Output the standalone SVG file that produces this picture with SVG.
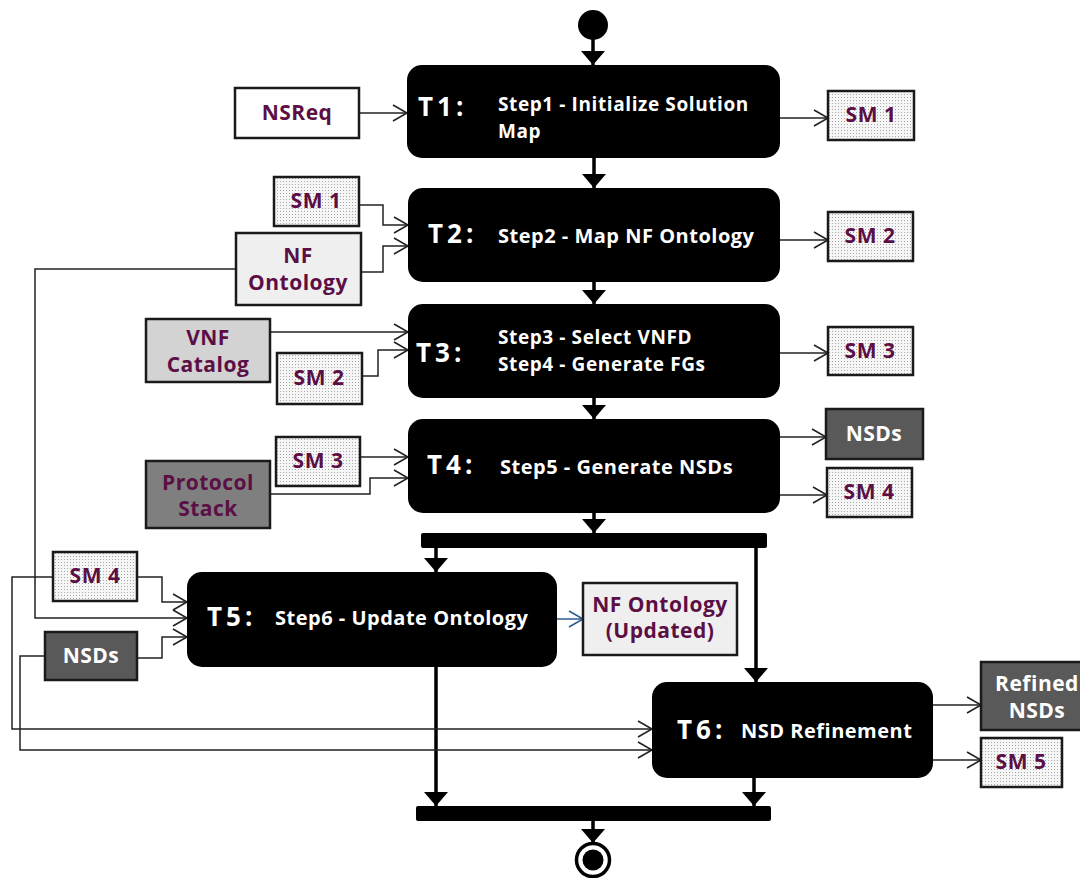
<svg xmlns="http://www.w3.org/2000/svg" width="1080" height="878" viewBox="0 0 1080 878">
  <defs>
    <pattern id="dots" width="3" height="3" patternUnits="userSpaceOnUse">
      <rect width="3" height="3" fill="#f6f6f6"/>
      <rect x="1" y="1" width="1" height="1" fill="#a8a8a8"/>
    </pattern>
    <!-- solid flow arrowhead -->
    <marker id="flow" viewBox="0 0 10 10" preserveAspectRatio="none" markerUnits="userSpaceOnUse" markerWidth="14" markerHeight="24" refX="10" refY="5" orient="auto">
      <path d="M0,0 L10,5 L0,10 z" fill="#000"/>
    </marker>
    <!-- open arrowhead for data connectors -->
    <marker id="open" markerUnits="userSpaceOnUse" markerWidth="16" markerHeight="20" refX="15" refY="9" orient="auto" overflow="visible">
      <path d="M1,1 L15,9 L1,17" fill="none" stroke="#222" stroke-width="1.6"/>
    </marker>
    <marker id="openBlue" markerUnits="userSpaceOnUse" markerWidth="16" markerHeight="20" refX="15" refY="9" orient="auto" overflow="visible">
      <path d="M1,1 L15,9 L1,17" fill="none" stroke="#2e5d8c" stroke-width="1.6"/>
    </marker>
  </defs>
  <style>
    .task { fill: #000; }
    .tl { font-family: "Open Sans", Lato, sans-serif; font-weight: 700; font-size: 26px; letter-spacing: 4px; fill: #fff; }
    .st { font-family: "Open Sans", Lato, sans-serif; font-weight: 700; font-size: 20px; letter-spacing: 0.5px; fill: #fff; }
    .st2 { font-family: "Open Sans", Lato, sans-serif; font-weight: 700; font-size: 19px; letter-spacing: 0.6px; fill: #fff; }
    .box { stroke: #1a1a1a; stroke-width: 2.5; }
    .plain { fill: #fff; }
    .sm { fill: url(#dots); }
    .light { fill: #efefef; }
    .mid { fill: #d3d3d3; }
    .grey { fill: #7f7f7f; }
    .dark { fill: #595959; }
    .lb { font-family: "Open Sans", Lato, sans-serif; font-weight: 700; font-size: 21px; letter-spacing: 0.5px; fill: #5b0f45; text-anchor: middle; }
    .lbw { font-family: "Open Sans", Lato, sans-serif; font-weight: 700; font-size: 21px; letter-spacing: 0.5px; fill: #fff; text-anchor: middle; }
    .thin { fill: none; stroke: #222; stroke-width: 1.5; marker-end: url(#open); }
    .thick { fill: none; stroke: #000; stroke-width: 3.5; marker-end: url(#flow); }
    .bar { fill: #000; }
  </style>

  <!-- control flow -->
  <g id="connectors">
    <path class="thick" d="M593,38 V65"/>
    <path class="thick" d="M594,158 V188"/>
    <path class="thick" d="M594,282 V304"/>
    <path class="thick" d="M594,398 V419"/>
    <path class="thick" d="M594,513 V533"/>
    <path class="thick" d="M436,548 V572"/>
    <path class="thick" d="M756,548 V682"/>
    <path class="thick" d="M436,667 V806"/>
    <path class="thick" d="M754,778 V806"/>
    <path class="thick" d="M593,821 V843"/>

    <!-- data flow -->
    <path class="thin" d="M359,113 H407"/>
    <path class="thin" d="M780,118 H828"/>
    <path class="thin" d="M359,205 H383 V225 H408"/>
    <path class="thin" d="M361,272 H383 V246 H408"/>
    <path class="thin" d="M236,269 H35 V618 H187"/>
    <path class="thin" d="M780,240 H828"/>
    <path class="thin" d="M270,332 H408"/>
    <path class="thin" d="M362,376 H378 V350 H408"/>
    <path class="thin" d="M780,353 H828"/>
    <path class="thin" d="M360,457 H408"/>
    <path class="thin" d="M270,494 H370 V478 H408"/>
    <path class="thin" d="M780,437 H826"/>
    <path class="thin" d="M780,495 H827"/>
    <path class="thin" d="M137,577 H162 V602 H187"/>
    <path class="thin" d="M137,658 H162 V637 H187"/>
    <path class="thin" d="M53,577 H12 V729 H652"/>
    <path class="thin" d="M45,656 H20 V750 H652"/>
    <path d="M557,619 H583" fill="none" stroke="#2e5d8c" stroke-width="1.5" marker-end="url(#openBlue)"/>
    <path class="thin" d="M933,705 H981"/>
    <path class="thin" d="M933,760 H981"/>
  </g>

  <g id="start"><circle cx="593" cy="25" r="15" fill="#000"/></g>

  <g id="T1">
    <rect class="task" x="407" y="65" width="373" height="93" rx="15"/>
    <text class="tl" x="418" y="116">T1:</text>
    <text class="st2" x="498" y="111">Step1 - Initialize Solution</text>
    <text class="st2" x="498" y="138">Map</text>
  </g>
  <g id="T2">
    <rect class="task" x="408" y="188" width="372" height="94" rx="15"/>
    <text class="tl" x="428" y="243">T2:</text>
    <text class="st" x="498" y="243">Step2 - Map NF Ontology</text>
  </g>
  <g id="T3">
    <rect class="task" x="408" y="304" width="372" height="94" rx="15"/>
    <text class="tl" x="416" y="362">T3:</text>
    <text class="st2" x="498" y="344">Step3 - Select VNFD</text>
    <text class="st2" x="498" y="371">Step4 - Generate FGs</text>
  </g>
  <g id="T4">
    <rect class="task" x="408" y="419" width="372" height="94" rx="15"/>
    <text class="tl" x="427" y="474">T4:</text>
    <text class="st" x="500" y="474">Step5 - Generate NSDs</text>
  </g>
  <g id="fork">
    <rect class="bar" x="421" y="533" width="346" height="15" rx="2"/>
  </g>
  <g id="T5">
    <rect class="task" x="187" y="572" width="370" height="95" rx="15"/>
    <text class="tl" x="207" y="626">T5:</text>
    <text class="st" x="275" y="625">Step6 - Update Ontology</text>
  </g>
  <g id="T6">
    <rect class="task" x="652" y="682" width="281" height="96" rx="15"/>
    <text class="tl" x="677" y="739">T6:</text>
    <text class="st" x="741" y="738">NSD Refinement</text>
  </g>
  <g id="join">
    <rect class="bar" x="416" y="806" width="355" height="15" rx="2"/>
  </g>
  <g id="end">
    <circle cx="593" cy="860" r="16.5" fill="#fff" stroke="#000" stroke-width="3.5"/>
    <circle cx="593" cy="860" r="10.5" fill="#000"/>
  </g>

  <!-- data objects -->
  <g id="NSReq">
    <rect class="box plain" x="235" y="88" width="124" height="50"/>
    <text class="lb" x="297" y="120">NSReq</text>
  </g>
  <g id="SM1-out">
    <rect class="box sm" x="828" y="91" width="86" height="49"/>
    <text class="lb" x="871" y="122">SM 1</text>
  </g>
  <g id="SM1-in">
    <rect class="box sm" x="274" y="177" width="85" height="49"/>
    <text class="lb" x="316" y="208">SM 1</text>
  </g>
  <g id="NFOntology">
    <rect class="box light" x="236" y="233" width="125" height="72"/>
    <text class="lb" x="298" y="263">NF</text>
    <text class="lb" x="298" y="290">Ontology</text>
  </g>
  <g id="SM2-out">
    <rect class="box sm" x="828" y="212" width="85" height="49"/>
    <text class="lb" x="870" y="243">SM 2</text>
  </g>
  <g id="VNFCatalog">
    <rect class="box mid" x="146" y="319" width="124" height="63"/>
    <text class="lb" x="208" y="345">VNF</text>
    <text class="lb" x="208" y="372">Catalog</text>
  </g>
  <g id="SM2-in">
    <rect class="box sm" x="277" y="353" width="85" height="51"/>
    <text class="lb" x="319" y="385">SM 2</text>
  </g>
  <g id="SM3-out">
    <rect class="box sm" x="828" y="327" width="85" height="48"/>
    <text class="lb" x="870" y="358">SM 3</text>
  </g>
  <g id="NSDs-out">
    <rect class="box dark" x="826" y="409" width="97" height="50"/>
    <text class="lbw" x="874" y="441">NSDs</text>
  </g>
  <g id="SM4-out">
    <rect class="box sm" x="827" y="468" width="85" height="49"/>
    <text class="lb" x="869" y="499">SM 4</text>
  </g>
  <g id="SM3-in">
    <rect class="box sm" x="276" y="437" width="84" height="49"/>
    <text class="lb" x="318" y="468">SM 3</text>
  </g>
  <g id="ProtocolStack">
    <rect class="box grey" x="146" y="461" width="124" height="67"/>
    <text class="lb" x="208" y="490">Protocol</text>
    <text class="lb" x="208" y="516">Stack</text>
  </g>
  <g id="SM4-in">
    <rect class="box sm" x="53" y="552" width="84" height="49"/>
    <text class="lb" x="95" y="583">SM 4</text>
  </g>
  <g id="NSDs-in">
    <rect class="box dark" x="45" y="632" width="92" height="48"/>
    <text class="lbw" x="91" y="663">NSDs</text>
  </g>
  <g id="NFOntologyUpdated">
    <rect class="box light" x="583" y="583" width="154" height="72"/>
    <text class="lb" x="660" y="612">NF Ontology</text>
    <text class="lb" x="660" y="638">(Updated)</text>
  </g>
  <g id="RefinedNSDs">
    <rect class="box dark" x="981" y="662" width="104" height="68"/>
    <text class="lbw" x="1037" y="691">Refined</text>
    <text class="lbw" x="1037" y="718">NSDs</text>
  </g>
  <g id="SM5">
    <rect class="box sm" x="981" y="738" width="81" height="49"/>
    <text class="lb" x="1021" y="769">SM 5</text>
  </g>
</svg>
